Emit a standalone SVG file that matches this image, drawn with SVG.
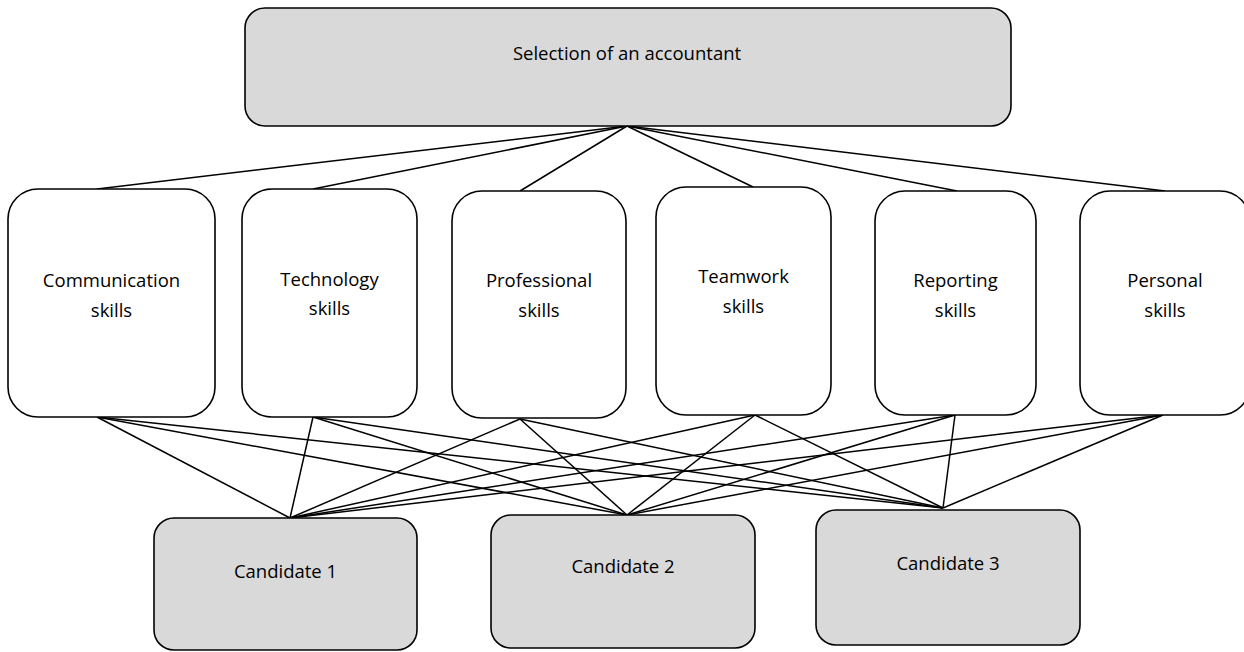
<svg xmlns="http://www.w3.org/2000/svg" width="1244" height="652" viewBox="0 0 1244 652">
<style>
.box{stroke:#000;stroke-width:1.6}
.gray{fill:#d9d9d9}
.white{fill:#fff}
.lbl{font-family:"Open Sans","Liberation Sans",sans-serif;font-size:18.5px;fill:#000;text-anchor:middle}
.conn line{stroke:#000;stroke-width:1.5}
</style>
<rect width="1244" height="652" fill="#fff"/>
<g id="connectors" class="conn">
<line x1="627" y1="126" x2="97" y2="189"/>
<line x1="627" y1="126" x2="313" y2="189"/>
<line x1="627" y1="126" x2="520" y2="191"/>
<line x1="627" y1="126" x2="753" y2="187"/>
<line x1="627" y1="126" x2="957" y2="191"/>
<line x1="627" y1="126" x2="1165" y2="191"/>
<line x1="97" y1="417" x2="290" y2="518"/>
<line x1="97" y1="417" x2="627" y2="515"/>
<line x1="97" y1="417" x2="943" y2="508"/>
<line x1="313" y1="417" x2="290" y2="518"/>
<line x1="313" y1="417" x2="627" y2="515"/>
<line x1="313" y1="417" x2="943" y2="508"/>
<line x1="520" y1="419" x2="290" y2="518"/>
<line x1="520" y1="419" x2="627" y2="515"/>
<line x1="520" y1="419" x2="943" y2="508"/>
<line x1="755" y1="415" x2="290" y2="518"/>
<line x1="755" y1="415" x2="627" y2="515"/>
<line x1="755" y1="415" x2="943" y2="508"/>
<line x1="955" y1="415" x2="290" y2="518"/>
<line x1="955" y1="415" x2="627" y2="515"/>
<line x1="955" y1="415" x2="943" y2="508"/>
<line x1="1163" y1="415" x2="290" y2="518"/>
<line x1="1163" y1="415" x2="627" y2="515"/>
<line x1="1163" y1="415" x2="943" y2="508"/>
</g>
<g id="goal">
<rect class="box gray" x="245" y="8" width="766" height="118" rx="20"/>
<text class="lbl" x="627" y="60">Selection of an accountant</text>
</g>
<g id="communication">
<rect class="box white" x="8" y="189" width="207" height="228" rx="30"/>
<text class="lbl" x="111.5" y="287">Communication</text>
<text class="lbl" x="111.5" y="317">skills</text>
</g>
<g id="technology">
<rect class="box white" x="242" y="189" width="175" height="228" rx="30"/>
<text class="lbl" x="329.5" y="286">Technology</text>
<text class="lbl" x="329.5" y="315">skills</text>
</g>
<g id="professional">
<rect class="box white" x="452" y="191" width="174" height="227" rx="30"/>
<text class="lbl" x="539" y="287">Professional</text>
<text class="lbl" x="539" y="317">skills</text>
</g>
<g id="teamwork">
<rect class="box white" x="656" y="187" width="175" height="228" rx="30"/>
<text class="lbl" x="743.5" y="283">Teamwork</text>
<text class="lbl" x="743.5" y="313">skills</text>
</g>
<g id="reporting">
<rect class="box white" x="875" y="191" width="161" height="224" rx="30"/>
<text class="lbl" x="955.5" y="287">Reporting</text>
<text class="lbl" x="955.5" y="317">skills</text>
</g>
<g id="personal">
<rect class="box white" x="1080" y="191" width="170" height="224" rx="30"/>
<text class="lbl" x="1165" y="287">Personal</text>
<text class="lbl" x="1165" y="317">skills</text>
</g>
<g id="candidate1">
<rect class="box gray" x="154" y="518" width="263" height="132" rx="20"/>
<text class="lbl" x="285.5" y="578">Candidate 1</text>
</g>
<g id="candidate2">
<rect class="box gray" x="491" y="515" width="264" height="133" rx="20"/>
<text class="lbl" x="623" y="573">Candidate 2</text>
</g>
<g id="candidate3">
<rect class="box gray" x="816" y="510" width="264" height="135" rx="20"/>
<text class="lbl" x="948" y="570">Candidate 3</text>
</g>
</svg>
